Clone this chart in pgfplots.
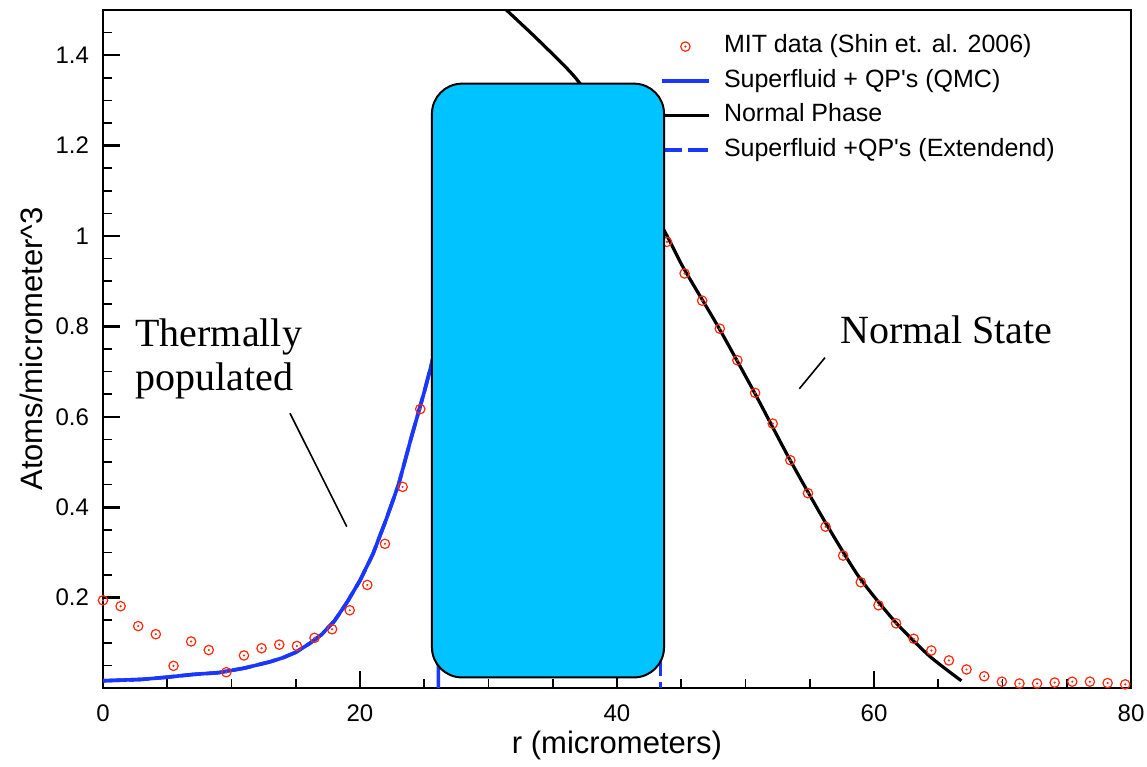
\documentclass[border=0pt]{standalone}
\usepackage{pgfplots}
\pgfplotsset{compat=1.18}
\usepackage{fontspec}
\setmainfont{Liberation Sans}
\newfontfamily\timesfont{Liberation Serif}
\definecolor{mitred}{RGB}{255,40,10}
\definecolor{qmcblue}{RGB}{25,55,255}
\definecolor{boxcyan}{RGB}{0,195,255}
\pgfdeclareplotmark{odot}{%
  \pgfpathcircle{\pgfpointorigin}{\pgfplotmarksize}\pgfusepathqstroke
  \pgfpathcircle{\pgfpointorigin}{0.6pt}\pgfusepathqfill}
\pgfplotsset{myleg/.style={legend image code/.code={%
  \draw[mark repeat=2,mark phase=2,##1] plot coordinates {(0pt,0pt) (11.9pt,0pt) (23.8pt,0pt)};}}}
\begin{document}
\begin{tikzpicture}
\begin{axis}[name=ax, scale only axis, width=514pt, height=339pt,
  xmin=0, xmax=80, ymin=0, ymax=1.5,
  xtick={0,20,40,60,80},
  ytick={0.2,0.4,0.6,0.8,1,1.2,1.4},
  minor xtick={5,10,15,25,30,35,45,50,55,65,70,75},
  minor ytick={0.05,0.1,0.15,0.25,0.3,0.35,0.45,0.5,0.55,0.65,0.7,0.75,0.85,0.9,0.95,1.05,1.1,1.15,1.25,1.3,1.35,1.45},
  tick pos=left, tick align=inside,
  major tick length=8.5pt, minor tick length=4.5pt,
  every tick/.style={black, line width=1.3pt},
  every minor tick/.append style={line width=0.8pt},
  axis line style={line width=1.4pt},
  tick label style={font=\fontsize{12}{14}\selectfont},
  /pgf/number format/assume math mode=true,
  xticklabel style={yshift=-5pt},
  yticklabel style={xshift=-3.5pt},
  xlabel={r (micrometers)},
  ylabel={Atoms/micrometer\textasciicircum 3},
  label style={font=\fontsize{15.5}{18}\selectfont},
  xlabel style={at={(axis description cs:0.5,-0.0841)}, anchor=center},
  ylabel style={at={(axis description cs:-0.0700,0.5)}, anchor=center},
  legend style={at={(axis cs:43.3,1.458)}, anchor=north west, draw=none, fill=none,
    inner sep=0pt, row sep=0pt,
    font=\fontsize{12.5}{15}\selectfont,
    nodes={inner xsep=4pt, inner ysep=2.8pt, text height=9.0pt, text depth=2.6pt},
    /tikz/every odd column/.append style={column sep=2.5pt}},
  legend cell align=left,
  clip=true,
]
% MIT data (Shin et al. 2006)
\addplot[only marks, mark=odot, mark size=2.35pt,
  mark options={draw=mitred, fill=mitred, line width=0.6pt}, myleg] table {
x y
0.00 0.194
1.37 0.181
2.74 0.137
4.11 0.119
5.49 0.049
6.86 0.103
8.23 0.084
9.60 0.035
10.97 0.072
12.34 0.088
13.72 0.096
15.09 0.093
16.46 0.111
17.83 0.130
19.20 0.172
20.57 0.228
21.94 0.319
23.32 0.445
24.69 0.617
43.89 0.987
45.26 0.917
46.63 0.857
48.00 0.795
49.37 0.725
50.75 0.653
52.12 0.585
53.49 0.504
54.86 0.431
56.23 0.357
57.60 0.293
58.97 0.234
60.35 0.183
61.72 0.143
63.09 0.109
64.46 0.083
65.83 0.061
67.20 0.041
68.58 0.026
69.95 0.014
71.32 0.010
72.69 0.010
74.06 0.012
75.43 0.014
76.80 0.014
78.18 0.011
79.55 0.008
};
\addlegendentry{MIT data (Shin et. al. 2006)}
% Superfluid + QP's (QMC)
\addplot[qmcblue, line width=1.8pt, no marks, myleg] table {
x y
0 0.016
3 0.019
5 0.024
7 0.030
9 0.034
10 0.039
11 0.044
12 0.051
13 0.058
14 0.067
15 0.079
16 0.097
17 0.118
18 0.148
19 0.190
20 0.238
21 0.296
22 0.370
23 0.450
24 0.555
25 0.655
25.6 0.720
26.1 0.790
26.1 0.000
};
\addlegendentry{Superfluid + QP\textquotesingle s (QMC)}
% Normal phase
\addplot[black, line width=1.6pt, no marks, smooth, tension=0.4, myleg] table {
x y
31.2 1.505
34.0 1.430
37.1 1.338
40.0 1.190
43.67 1.012
45.16 0.930
47.9 0.798
50.67 0.655
53.4 0.508
56.1 0.372
58.8 0.247
61.6 0.148
64.3 0.071
66.8 0.016
};
\addlegendentry{Normal Phase}
% Superfluid + QP's (extended)
\addplot[qmcblue, line width=1.8pt, dash pattern=on 10pt off 3pt, no marks, myleg] table {
x y
0 0.016
3 0.019
5 0.024
7 0.030
9 0.034
10 0.039
11 0.044
12 0.051
13 0.058
14 0.067
15 0.079
16 0.097
17 0.118
18 0.148
19 0.190
20 0.238
21 0.296
22 0.370
23 0.450
24 0.555
25 0.655
25.6 0.720
26.1 0.790
};
\addlegendentry{Superfluid +QP\textquotesingle s (Extendend)}
\addplot[qmcblue, line width=1.8pt, dash pattern=on 10pt off 3pt, no marks, forget plot] table {
x y
43.4 0.30
43.4 0.00
};
% annotations
\draw[line width=0.8pt] (axis cs:14.55,0.608) -- (axis cs:18.97,0.357);
\draw[line width=0.8pt] (axis cs:56.19,0.731) -- (axis cs:54.19,0.662);
\node[anchor=base west, inner sep=0pt, font=\timesfont\fontsize{20}{22}\selectfont] at (axis cs:2.49,0.755) {Thermally};
\node[anchor=base west, inner sep=0pt, font=\timesfont\fontsize{20}{22}\selectfont] at (axis cs:2.49,0.659) {populated};
\node[anchor=base west, inner sep=0pt, font=\timesfont\fontsize{20}{22}\selectfont] at (axis cs:57.35,0.762) {Normal State};
\coordinate (boxsw) at (axis cs:25.6,0.0235);
\coordinate (boxne) at (axis cs:43.66,1.337);
\end{axis}
\draw[line width=1pt, fill=boxcyan, rounded corners=15pt] (boxsw) rectangle (boxne);
\pgfresetboundingbox
\path[use as bounding box] ([xshift=-51.5pt,yshift=-39pt]ax.south west) rectangle ([xshift=8pt,yshift=5pt]ax.north east);
\end{tikzpicture}
\end{document}
